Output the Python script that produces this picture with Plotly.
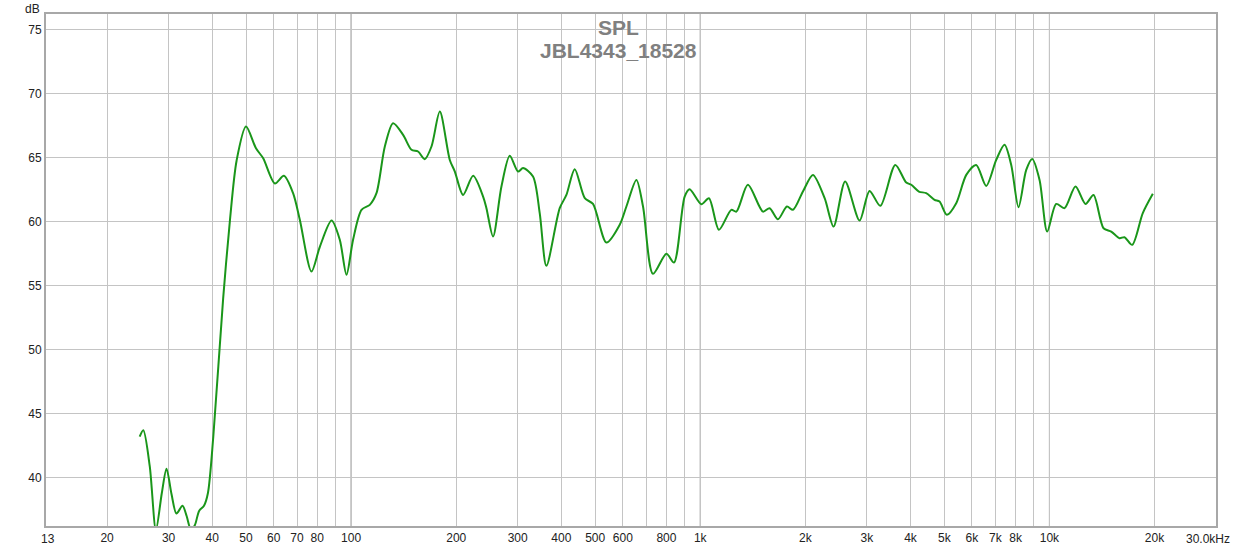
import math
import plotly.graph_objects as go

# Frequency response data (Hz, dB)
freq = [24.8, 25.4, 26.5, 27.6, 28.7, 29.6, 30.6, 31.6, 32.9, 33.8, 34.8, 35.7,
        36.7, 37.9, 38.9, 40.3, 43.0, 45.0, 47.0, 50.0, 53.4, 56.0, 60.5, 64.2,
        68.2, 71.3, 77.0, 81.4, 87.9, 92.8, 97.0, 101.3, 107.1, 113.1, 118.2,
        124.9, 131.9, 140.9, 148.9, 155.5, 162.5, 169.9, 179.5, 191.7, 198.2,
        209.3, 223.6, 238.8, 244.1, 255.0, 269.5, 284.7, 300.6, 310.7, 331.9,
        346.9, 362.5, 395.8, 413.6, 437.0, 467.0, 493.0, 538.5, 588.0, 614.4,
        656.2, 685.6, 732.2, 799.8, 840.9, 902.2, 932.6, 1007, 1059, 1131, 1227,
        1269, 1369, 1512, 1580, 1669, 1771, 1843, 1968, 2102, 2271, 2409, 2600,
        2860, 3054, 3279, 3619, 3890, 4021, 4228, 4437, 4688, 4845, 5085, 5409,
        5779, 6171, 6592, 7041, 7437, 7774, 8157, 8583, 8928, 9370, 9856, 10459,
        11048, 11876, 12688, 13374, 14289, 15031, 15876, 16406, 17259, 18512, 19778]
spl = [43.2, 43.7, 40.9, 35.9, 38.8, 40.7, 38.7, 37.2, 37.8, 37.0, 35.9, 36.3,
       37.4, 37.8, 38.8, 43.2, 54.0, 60.2, 64.8, 67.45, 65.75, 64.97, 63.0, 63.6,
       62.24, 60.16, 56.12, 58.07, 60.1, 58.6, 55.86, 58.6, 60.94, 61.33, 62.24,
       65.89, 67.71, 66.8, 65.63, 65.5, 64.9, 65.89, 68.62, 64.84, 63.93,
       62.1, 63.6, 61.98, 61.07, 58.85, 62.76, 65.16, 63.93, 64.2, 63.54,
       60.68, 56.56, 61.07, 62.1, 64.12, 61.85, 61.4, 58.38, 59.77, 61.2,
       63.28, 61.2, 55.94, 57.5, 56.82, 61.98, 62.55, 61.38, 61.85, 59.38, 60.94,
       60.8, 62.9, 60.8, 61.07, 60.2, 61.2, 60.94, 62.37, 63.67, 61.85, 59.63, 63.15,
       60.1, 62.42, 61.25, 64.45, 63.07, 62.9, 62.37, 62.24, 61.72, 61.59, 60.55, 61.46,
       63.67, 64.45, 62.81, 64.84, 66.02, 64.45, 61.15, 64.06, 64.92, 63.28, 59.24, 61.4,
       61.07, 62.76, 61.4, 62.1, 59.5, 59.24, 58.72, 58.8, 58.2, 60.68, 62.19]

grid_vals = [20, 30, 40, 50, 60, 70, 80, 90, 100, 200, 300, 400, 500, 600, 700,
             800, 900, 1000, 2000, 3000, 4000, 5000, 6000, 7000, 8000, 9000, 10000, 20000]
grid_text = ["20", "30", "40", "50", "60", "70", "80", "", "100", "200", "300", "400",
             "500", "600", "", "800", "", "1k", "2k", "3k", "4k", "5k", "6k", "7k",
             "8k", "", "10k", "20k"]
decades = [100, 1000, 10000]
y_ticks = [40, 45, 50, 55, 60, 65, 70, 75]

x_min, x_max = 13.37, 30000
y_min, y_max = 36.22, 76.25

fig = go.Figure()
fig.add_trace(go.Scatter(
    x=freq, y=spl, mode="lines",
    line=dict(color="#1a961a", width=2, shape="spline", smoothing=0.8),
    hoverinfo="x+y", showlegend=False))

for d in decades:
    fig.add_shape(type="line", xref="x", yref="paper", x0=d, x1=d, y0=0, y1=1,
                  line=dict(color="#808080", width=1), layer="below")

font = "Liberation Sans, Arial, sans-serif"
fig.update_layout(
    width=1238, height=546,
    margin=dict(l=46, r=22, t=14, b=20),
    paper_bgcolor="white", plot_bgcolor="white",
    font=dict(family=font, size=12, color="#222222"),
    xaxis=dict(type="log", range=[math.log10(x_min), math.log10(x_max)],
               tickvals=grid_vals, ticktext=grid_text, showgrid=True,
               gridcolor="#c4c4c4", gridwidth=1, zeroline=False,
               showline=True, mirror=True, linecolor="#a8a8a8", linewidth=2,
               ticks="", tickfont=dict(size=12, color="#222222"), automargin=False),
    yaxis=dict(range=[y_min, y_max], tickvals=y_ticks, showgrid=True,
               gridcolor="#c4c4c4", gridwidth=1, zeroline=False,
               showline=True, mirror=True, linecolor="#a8a8a8", linewidth=2,
               ticks="", tickfont=dict(size=12, color="#222222"), automargin=False),
    annotations=[
        dict(text="<b>SPL</b>", xref="paper", yref="paper", x=0.489, y=1,
             yshift=-13, xanchor="center", yanchor="middle", showarrow=False,
             font=dict(family=font, size=21, color="#808080")),
        dict(text="<b>JBL4343_18528</b>", xref="paper", yref="paper", x=0.489, y=1,
             yshift=-36, xanchor="center", yanchor="middle", showarrow=False,
             font=dict(family=font, size=21, color="#808080")),
        dict(text="dB", xref="paper", yref="paper", x=0, y=1, xshift=-4, yshift=14,
             xanchor="right", yanchor="top", showarrow=False,
             font=dict(family=font, size=12, color="#222222")),
        dict(text="13", xref="paper", yref="paper", x=0, y=0, xshift=2, yshift=-4,
             xanchor="center", yanchor="top", showarrow=False,
             font=dict(family=font, size=12, color="#222222")),
        dict(text="30.0kHz", xref="paper", yref="paper", x=1, y=0, xshift=16, yshift=-4,
             xanchor="right", yanchor="top", showarrow=False,
             font=dict(family=font, size=12, color="#222222")),
    ],
)

fig.write_html("out.html", config={"displayModeBar": False},
               post_script="document.body.style.margin='0';")
